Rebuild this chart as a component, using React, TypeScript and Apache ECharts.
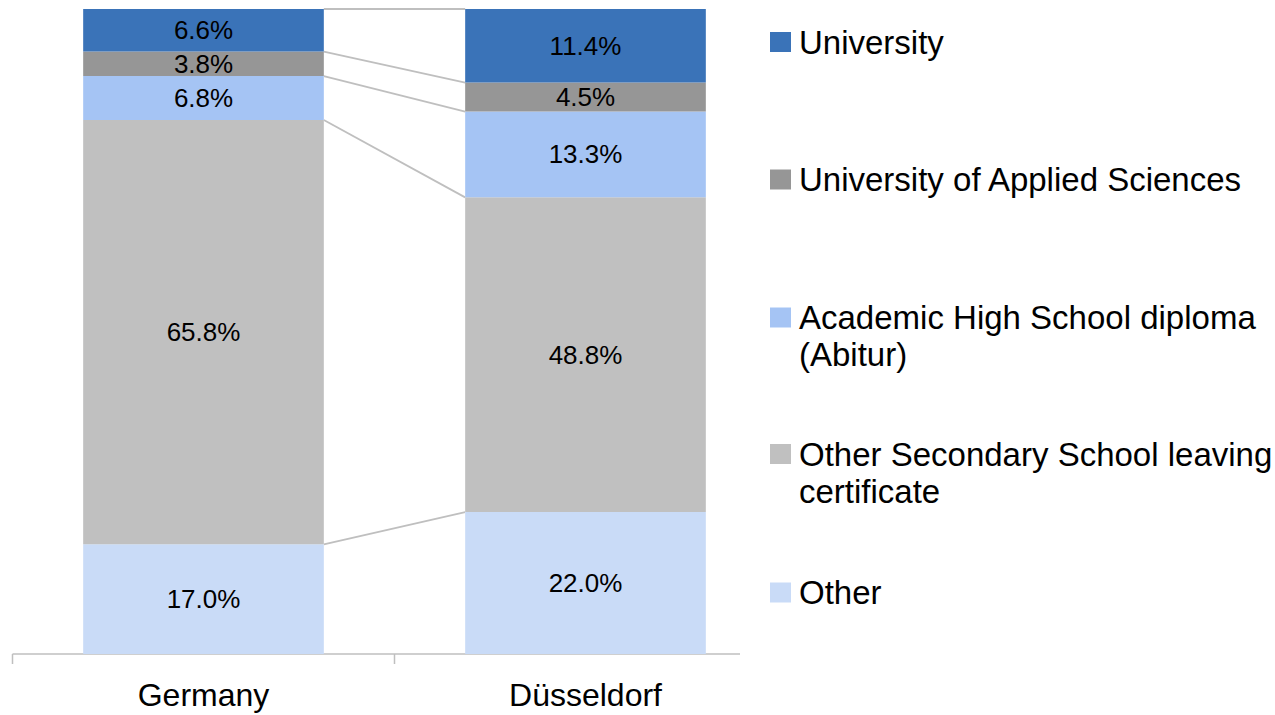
import React, { useEffect, useRef } from "react";
import * as echarts from "echarts";

const categories = ["Germany", "Düsseldorf"];
const other = [17.0, 22.0];
const otherSecondary = [65.8, 48.8];
const abitur = [6.8, 13.3];
const appliedSciences = [3.8, 4.5];
const university = [6.6, 11.4];

const seriesNames = [
  "Other",
  "Other Secondary School leaving certificate",
  "Academic High School diploma (Abitur)",
  "University of Applied Sciences",
  "University",
];
const legendLabels: Record<string, string> = {
  "University": "University",
  "University of Applied Sciences": "University of Applied Sciences",
  "Academic High School diploma (Abitur)": "\nAcademic High School diploma\n(Abitur)",
  "Other Secondary School leaving certificate": "\nOther Secondary School leaving\ncertificate",
  "Other": "Other",
};
const legendOrder = [
  "University",
  "University of Applied Sciences",
  "Academic High School diploma (Abitur)",
  "Other Secondary School leaving certificate",
  "Other",
];
const colors = ["#C9DBF7", "#C0C0C0", "#A5C4F4", "#969696", "#3A73B8"];
const FONT = "'Liberation Sans', Arial, sans-serif";
const BAR_FRAC = 0.63;

export default function App() {
  const ref = useRef<HTMLDivElement>(null);
  useEffect(() => {
    if (!ref.current) return;
    const chart = echarts.init(ref.current, null, { renderer: "svg" });
    const values = [other, otherSecondary, abitur, appliedSciences, university];

    // cumulative boundaries for series lines
    const boundaries: number[][] = [];
    const cum = [0, 0];
    values.forEach((arr) => {
      cum[0] += arr[0];
      cum[1] += arr[1];
      boundaries.push([0, Math.min(cum[0], 100), Math.min(cum[1], 100)]);
    });

    const barSeries = values.map((arr, i) => ({
      name: seriesNames[i],
      type: "bar",
      stack: "total",
      barWidth: "63%",
      data: arr,
      itemStyle: { color: colors[i] },
      label: {
        show: true,
        position: "inside",
        color: "#000",
        fontSize: 26,
        fontFamily: FONT,
        formatter: (p: any) => Number(p.value).toFixed(1) + "%",
      },
    }));

    const legendTops = [18.5, 156, 257, 393.5, 569];
    const legends = legendOrder.map((name, i) => ({
      data: [name],
      left: 765,
      top: legendTops[i],
      itemWidth: 21,
      itemHeight: 20,
      icon: "rect",
      selectedMode: false,
      formatter: (n: string) => legendLabels[n],
      textStyle: {
        color: "#000",
        fontSize: 33,
        fontFamily: FONT,
        lineHeight: 37,
        padding: [0, 0, 0, 3],
      },
    }));

    chart.setOption({
      animation: false,
      backgroundColor: "#fff",
      grid: { left: 12.5, right: 498.5, top: 9, bottom: 61 },
      legend: legends,
      xAxis: {
        type: "category",
        data: categories,
        axisLine: { show: false },
        axisTick: { show: false },
        axisLabel: { color: "#000", fontSize: 32, fontFamily: FONT, margin: 25 },
      },
      yAxis: { type: "value", min: 0, max: 100, show: false, splitLine: { show: false } },
      series: [
        ...barSeries,
        {
          type: "custom",
          name: "seriesLines",
          data: boundaries,
          encode: { x: 0, y: 1 },
          z: 1,
          silent: true,
          renderItem: (params: any, api: any) => {
            const p0 = api.coord([0, api.value(1)]);
            const p1 = api.coord([1, api.value(2)]);
            const half = (api.size([1, 0])[0] * BAR_FRAC) / 2;
            return {
              type: "line",
              shape: { x1: p0[0] + half, y1: p0[1], x2: p1[0] - half, y2: p1[1] },
              style: { stroke: "#BFBFBF", lineWidth: 1.8 },
            };
          },
        },
      ],
    });

    const c0 = chart.convertToPixel({ gridIndex: 0 }, [0, 0]) as number[];
    const c1 = chart.convertToPixel({ gridIndex: 0 }, [1, 0]) as number[];
    const band = c1[0] - c0[0];
    const axisY = c0[1];
    const startX = c0[0] - band / 2;
    const midX = c0[0] + band / 2;
    chart.setOption({
      graphic: [
        { type: "line", shape: { x1: startX, y1: axisY, x2: 740, y2: axisY }, style: { stroke: "#BFBFBF", lineWidth: 1.5 } },
        { type: "line", shape: { x1: startX, y1: axisY, x2: startX, y2: axisY + 10 }, style: { stroke: "#BFBFBF", lineWidth: 1.5 } },
        { type: "line", shape: { x1: midX, y1: axisY, x2: midX, y2: axisY + 10 }, style: { stroke: "#BFBFBF", lineWidth: 1.5 } },
      ],
    });

    return () => chart.dispose();
  }, []);
  return (
    <div
      ref={ref}
      style={{ position: "absolute", left: 0, top: 0, width: 1275, height: 715 }}
    />
  );
}
